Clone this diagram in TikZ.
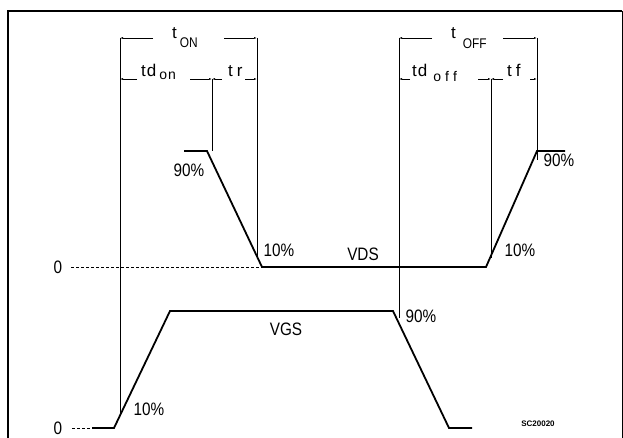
\documentclass[tikz,border=0pt]{standalone}
\usepackage{fontspec}
\setmainfont{Liberation Sans}
\usetikzlibrary{arrows.meta}
\newcommand{\narrowtext}[1]{\scalebox{0.85}[1]{#1}}
\begin{document}
\begin{tikzpicture}[x=1pt,y=-1pt,
  wave/.style={line width=1.8pt,line join=miter},
  dimline/.style={line width=0.7pt},
  dimarr/.style={line width=0.7pt,-{Latex[length=3pt,width=2pt]}},
  lbl/.style={inner sep=0pt,anchor=base,font=\fontsize{18}{18}\selectfont},
  dlbl/.style={inner sep=0pt,anchor=base west,font=\fontsize{17}{17}\selectfont},
  tiny/.style={inner sep=0pt,anchor=base,font=\fontsize{8}{8}\selectfont\bfseries}]
\useasboundingbox (0,0) rectangle (623,438);
% frame
\draw[line width=2pt] (8,438) -- (8,11) -- (622,11);
\draw[line width=1pt] (622,11) -- (622,438);
% reference coordinates
\coordinate (a1) at (184,151);
\coordinate (a2) at (207,151);
\coordinate (a3) at (262,267);
\coordinate (a4) at (486,267);
\coordinate (a5) at (537,151);
\coordinate (a6) at (565,151);
\coordinate (b1) at (92,428);
\coordinate (b2) at (114,428);
\coordinate (b3) at (170,311);
\coordinate (b4) at (393,311);
\coordinate (b5) at (449,428);
\coordinate (b6) at (472,428);
% waveforms
\draw[wave] (a1) -- (a2) -- (a3) -- (a4) -- (a5) -- (a6);
\draw[wave] (b1) -- (b2) -- (b3) -- (b4) -- (b5) -- (b6);
% zero labels and dashed references
\node[lbl] (z1) at (58,273) {\narrowtext{0}};
\node[lbl] (z2) at (58,434) {\narrowtext{0}};
\coordinate (d1) at (71,267);
\coordinate (d2) at (72,428);
\draw[dimline,dash pattern=on 3pt off 2pt] (d1) -- (a3);
\draw[dimline,dash pattern=on 3pt off 2pt] (d2) -- (b1);
% vertical extension lines
\coordinate (v1t) at (120,38);  \coordinate (v1b) at (120,413);
\coordinate (v2t) at (212,79);  \coordinate (v2b) at (212,151);
\coordinate (v3t) at (257,38);  \coordinate (v3b) at (257,258);
\coordinate (v4t) at (399,38);  \coordinate (v4b) at (399,318);
\coordinate (v5t) at (491,79);  \coordinate (v5b) at (491,258);
\coordinate (v6t) at (537,38);  \coordinate (v6b) at (537,160);
\draw[dimline] (v1t) -- (v1b);
\draw[dimline] (v2t) -- (v2b);
\draw[dimline] (v3t) -- (v3b);
\draw[dimline] (v4t) -- (v4b);
\draw[dimline] (v5t) -- (v5b);
\draw[dimline] (v6t) -- (v6b);
% dimension labels
\node[dlbl] (ton) at (172,39) {t\hspace{3pt}\raisebox{-9pt}{\fontsize{14}{14}\selectfont\narrowtext{ON}}};
\node[dlbl] (tdon) at (141,77) {t\hspace{1pt}d\hspace{3pt}\raisebox{-3pt}{\fontsize{14}{14}\selectfont o\hspace{1pt}n}};
\node[dlbl] (tr) at (228,77) {t\hspace{4pt}r};
\node[dlbl] (toff) at (451,39) {t\hspace{7pt}\raisebox{-10pt}{\fontsize{14}{14}\selectfont\narrowtext{OFF}}};
\node[dlbl] (tdoff) at (412,77) {t\hspace{1pt}d\hspace{6pt}\raisebox{-5pt}{\fontsize{14}{14}\selectfont o\hspace{4pt}f\hspace{4pt}f}};
\node[dlbl] (tf) at (507,77) {t\hspace{4pt}f};
% dimension lines
\draw[dimarr] (153,38) -- (v1t);
\draw[dimarr] (224,38) -- (v3t);
\draw[dimarr] (137,79) -- (120,79);
\draw[dimarr] (190,79) -- (v2t);
\draw[dimarr] (222,79) -- (v2t);
\draw[dimarr] (245,79) -- (257,79);
\draw[dimarr] (432,38) -- (v4t);
\draw[dimarr] (503,38) -- (v6t);
\draw[dimarr] (410,79) -- (399,79);
\draw[dimarr] (478,79) -- (v5t);
\draw[dimarr] (503,79) -- (v5t);
\draw[dimarr] (530,79) -- (537,79);
% percent labels
\node[lbl] (p1) at (189,177) {\narrowtext{90\%}};
\node[lbl] (p2) at (279,256) {\narrowtext{10\%}};
\node[lbl] (vds) at (363,260) {\narrowtext{VDS}};
\node[lbl] (p3) at (559,167) {\narrowtext{90\%}};
\node[lbl] (p4) at (520,256) {\narrowtext{10\%}};
\node[lbl] (vgs) at (286,335) {\narrowtext{VGS}};
\node[lbl] (p5) at (421,322) {\narrowtext{90\%}};
\node[lbl] (p6) at (149,415) {\narrowtext{10\%}};
\node[tiny] (sc) at (538,426) {SC20020};
\end{tikzpicture}
\end{document}
